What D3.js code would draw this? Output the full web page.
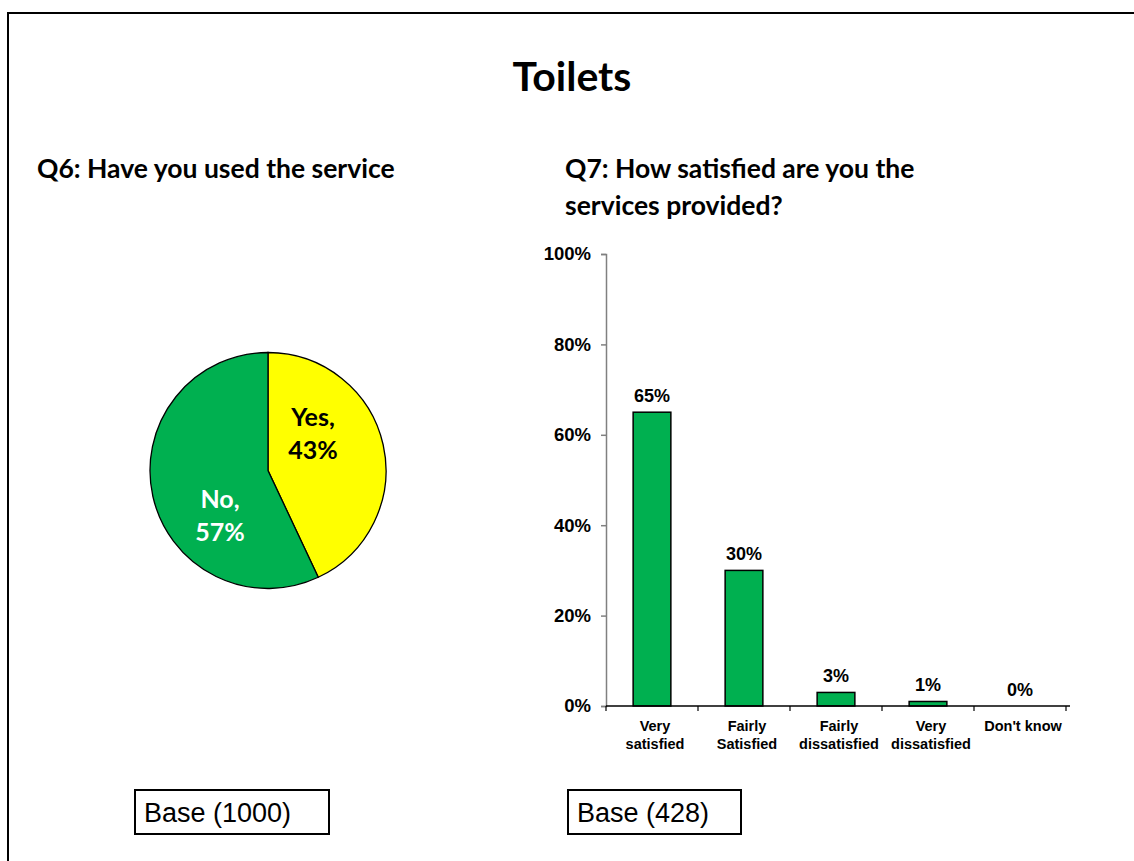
<!DOCTYPE html>
<html>
<head>
<meta charset="utf-8">
<script src="https://cdn.jsdelivr.net/npm/d3@7"></script>
<style>
  html, body { margin: 0; padding: 0; background: #fff; overflow: hidden; }
  svg { display: block; }
</style>
</head>
<body>
<svg id="chart" width="1134" height="861"></svg>
<script>
// Q6 usage split
const pieLabels = ["Yes", "No"];
const pieValues = [43, 57];
const pieColors = ["#FFFF00", "#00B050"];
const pieTextColors = ["#000000", "#FFFFFF"];

// Q7 satisfaction
const barCategories = [["Very", "satisfied"], ["Fairly", "Satisfied"], ["Fairly", "dissatisfied"], ["Very", "dissatisfied"], ["Don't know"]];
const barValues = [65, 30, 3, 1, 0];
const yTicks = [0, 20, 40, 60, 80, 100];

const baseLeft = "Base (1000)";
const baseRight = "Base (428)";

const svg = d3.select("#chart");
const headFont = "Lato, 'Open Sans', sans-serif";
const chartFont = "'Liberation Sans', Arial, sans-serif";

// page frame: only the top and left edges fall inside the view
svg.append("path")
  .attr("d", "M8,1000 L8,13 L1200,13")
  .attr("fill", "none").attr("stroke", "#000").attr("stroke-width", 2);

// titles
svg.append("text")
  .attr("x", 572).attr("y", 91)
  .attr("text-anchor", "middle")
  .attr("font-family", headFont).attr("font-weight", 700).attr("font-size", 41)
  .text("Toilets");

const subt = [
  { x: 37, y: 178, t: "Q6: Have you used the service" },
  { x: 565, y: 178, t: "Q7: How satisfied are you the" },
  { x: 565, y: 215, t: "services provided?" }
];
svg.selectAll("text.sub").data(subt).enter().append("text")
  .attr("class", "sub")
  .attr("x", d => d.x).attr("y", d => d.y)
  .attr("font-family", headFont).attr("font-weight", 700).attr("font-size", 26.5)
  .text(d => d.t);

// ---- pie ----
const pieG = svg.append("g").attr("transform", "translate(268,470.5)");
const radius = 118;
const pie = d3.pie().sort(null).value(d => d)(pieValues);
const arc = d3.arc().innerRadius(0).outerRadius(radius);
pieG.selectAll("path").data(pie).enter().append("path")
  .attr("d", arc)
  .attr("fill", (d, i) => pieColors[i])
  .attr("stroke", "#000").attr("stroke-width", 1.3);

// label anchors inside each slice (offsets from the pie centre)
const labelSpots = [[45, -38], [-48, 44]];
pie.forEach((d, i) => {
  const [cx, cy] = labelSpots[i];
  const t = pieG.append("text")
    .attr("text-anchor", "middle")
    .attr("font-family", headFont).attr("font-weight", 700).attr("font-size", 25)
    .attr("fill", pieTextColors[i]);
  t.append("tspan").attr("x", cx).attr("y", cy - 7).text(pieLabels[i] + ",");
  t.append("tspan").attr("x", cx).attr("y", cy + 26).text(pieValues[i] + "%");
});

// ---- bar chart ----
const x = d3.scaleBand()
  .domain(barCategories.map((d, i) => i))
  .range([606, 1066])
  .paddingInner(0.59).paddingOuter(0.295);
const y = d3.scaleLinear().domain([0, 100]).range([706, 254]);

// y axis
const yAxis = svg.append("g").attr("transform", "translate(606,0)")
  .call(d3.axisLeft(y).tickValues(yTicks).tickSize(5).tickPadding(10).tickFormat(d => d + "%"));
yAxis.select(".domain").attr("stroke", "#808080").attr("stroke-width", 1.5);
yAxis.selectAll(".tick line").attr("stroke", "#808080").attr("stroke-width", 1.5);
yAxis.selectAll(".tick text")
  .attr("font-family", chartFont).attr("font-weight", 700).attr("font-size", 18.5)
  .attr("fill", "#000");

// bars
svg.selectAll("rect.bar").data(barValues).enter().append("rect")
  .attr("class", "bar")
  .attr("x", (d, i) => x(i))
  .attr("width", x.bandwidth())
  .attr("y", d => y(d))
  .attr("height", d => y(0) - y(d))
  .attr("fill", "#00B050")
  .attr("stroke", "#000").attr("stroke-width", 1.5);

// x axis with ticks at band boundaries
const xAxisG = svg.append("g");
xAxisG.append("line")
  .attr("x1", 606).attr("x2", 1070).attr("y1", y(0)).attr("y2", y(0))
  .attr("stroke", "#000").attr("stroke-width", 1.5);
const bounds = barCategories.map((d, i) => x(i) - x.step() * x.paddingOuter()).concat([x(barCategories.length - 1) - x.step() * x.paddingOuter() + x.step()]);
xAxisG.selectAll("line.tk").data(bounds).enter().append("line")
  .attr("class", "tk")
  .attr("x1", d => d).attr("x2", d => d)
  .attr("y1", y(0)).attr("y2", y(0) + 5)
  .attr("stroke", "#000").attr("stroke-width", 1.2);

// category labels
barCategories.forEach((lines, i) => {
  const cx = x(i) + x.bandwidth() / 2 + 3;
  const t = svg.append("text")
    .attr("text-anchor", "middle")
    .attr("font-family", chartFont).attr("font-weight", 700).attr("font-size", 14.5);
  lines.forEach((ln, j) => {
    t.append("tspan").attr("x", cx).attr("y", 731 + j * 18).text(ln);
  });
});

// value labels
svg.selectAll("text.val").data(barValues).enter().append("text")
  .attr("class", "val")
  .attr("x", (d, i) => x(i) + x.bandwidth() / 2)
  .attr("y", d => y(d) - 10)
  .attr("text-anchor", "middle")
  .attr("font-family", chartFont).attr("font-weight", 700).attr("font-size", 18)
  .text(d => d + "%");

// base boxes
const boxes = [
  { x: 135, w: 194, t: baseLeft },
  { x: 568, w: 173, t: baseRight }
];
boxes.forEach(b => {
  svg.append("rect")
    .attr("x", b.x).attr("y", 790).attr("width", b.w).attr("height", 44)
    .attr("fill", "#fff").attr("stroke", "#000").attr("stroke-width", 2);
  svg.append("text")
    .attr("x", b.x + 9).attr("y", 822)
    .attr("font-family", chartFont).attr("font-size", 27)
    .text(b.t);
});
</script>
</body>
</html>
